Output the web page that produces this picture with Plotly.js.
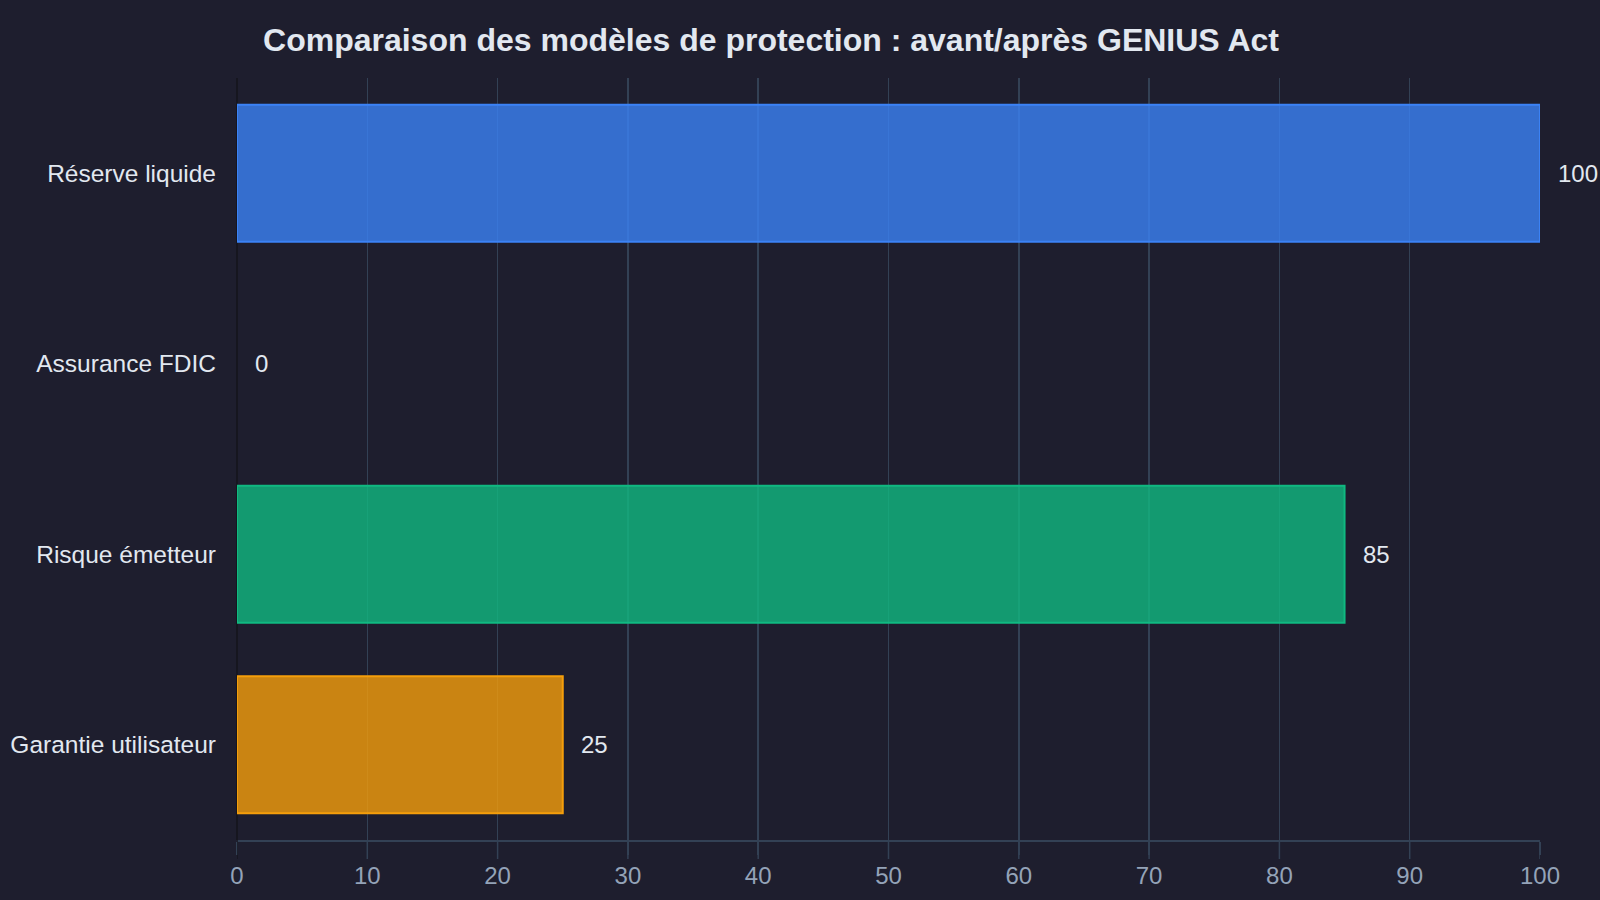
<!DOCTYPE html>
<html>
<head>
<meta charset="utf-8">
<script src="https://cdn.plot.ly/plotly-3.0.1.min.js"></script>
<style>
  html, body { margin: 0; padding: 0; background: #1e1e2e; }
  #chart { width: 1600px; height: 900px; }
</style>
</head>
<body>
<div id="chart"></div>
<script>
const categories = ["Réserve liquide", "Assurance FDIC", "Risque émetteur", "Garantie utilisateur"];
const values = [100, 0, 85, 25];
const xTicks = [0, 10, 20, 30, 40, 50, 60, 70, 80, 90, 100];

const fillColors = ["rgba(59,130,246,0.8)", "rgba(239,68,68,0.8)", "rgba(16,185,129,0.8)", "rgba(245,158,11,0.8)"];
const lineColors = ["#3b82f6", "#ef4444", "#10b981", "#f59e0b"];

const font = "Liberation Sans, Arial, Helvetica, sans-serif";

const trace = {
  type: "bar",
  orientation: "h",
  x: values,
  y: categories,
  marker: {
    color: fillColors,
    line: { color: lineColors, width: values.map(v => v === 0 ? 0 : 2) }
  },
  hoverinfo: "x+y",
  showlegend: false
};

const annotations = values.map((v, i) => ({
  x: v, y: categories[i], xref: "x", yref: "y",
  text: String(v), showarrow: false,
  xanchor: "left", yanchor: "middle", xshift: 16,
  font: { family: font, size: 24, color: "#e2e8f0" }
}));

// extend tick marks below the axis line (reference ticks run ~19px below)
const tickShapes = xTicks.map(t => ({
  type: "line", xref: "x", yref: "paper",
  x0: t, x1: t, y0: 0, y1: -19 / 762,
  line: { color: t === 0 ? "#16161f" : "#334155", width: 1.5 },
  layer: "above"
}));

const layout = {
  width: 1600, height: 900,
  paper_bgcolor: "#1e1e2e",
  plot_bgcolor: "#1e1e2e",
  margin: { l: 237, r: 60, t: 78, b: 60, pad: 0 },
  bargap: 0.28,
  font: { family: font, color: "#e2e8f0" },
  title: {
    text: "<b>Comparaison des modèles de protection : avant/après GENIUS Act</b>",
    font: { family: font, size: 32, color: "#e2e8f0" },
    x: 771 / 1600, xref: "container", xanchor: "center",
    y: 1 - 40 / 900, yref: "container", yanchor: "middle"
  },
  xaxis: {
    range: [0, 100],
    tickvals: xTicks,
    ticktext: xTicks.map(String),
    showgrid: true, gridcolor: "#334155", gridwidth: 1.5,
    zeroline: true, zerolinecolor: "#16161f", zerolinewidth: 2,
    showline: true, linecolor: "#334155", linewidth: 2,
    ticks: "outside", ticklen: 13, tickwidth: 1.5, tickcolor: "#334155",
    tickfont: { family: font, size: 24, color: "#94a3b8" },
    fixedrange: true
  },
  yaxis: {
    autorange: "reversed",
    showgrid: false, zeroline: false, showline: false,
    ticks: "",
    ticklabelstandoff: 20,
    tickfont: { family: font, size: 24.5, color: "#e2e8f0" },
    fixedrange: true
  },
  shapes: tickShapes,
  annotations: annotations
};

Plotly.newPlot("chart", [trace], layout, { displayModeBar: false, staticPlot: true });
</script>
</body>
</html>
